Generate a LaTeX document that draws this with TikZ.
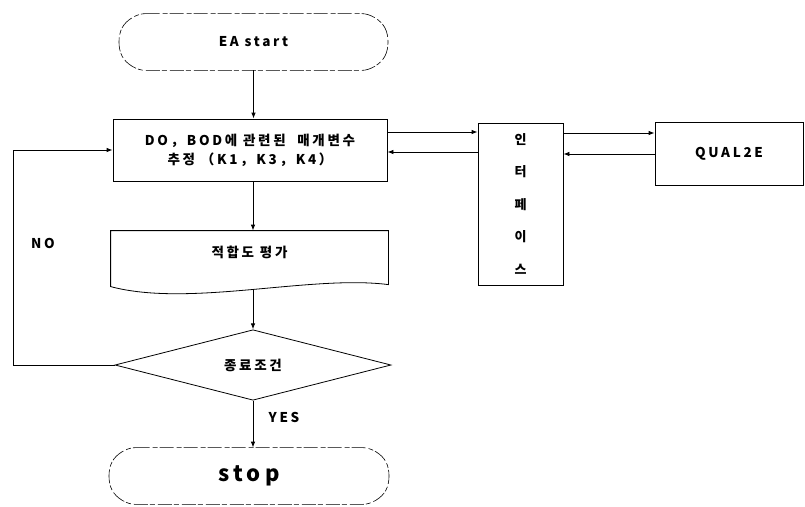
\documentclass[tikz,border=0pt]{standalone}
\usepackage{fontspec}
\setmainfont{Noto Sans CJK KR}[LetterSpace=20]
\usetikzlibrary{arrows.meta,shapes.geometric}

\begin{document}
\begin{tikzpicture}[x=1pt,y=-1pt,line width=0.8pt,font=\bfseries\fontsize{13.5}{16}\selectfont,every node/.style={align=center},
  termline/.style={dash pattern=on 14pt off 3pt on 5pt off 2pt,line width=0.6pt,rounded corners=16pt},
  boxx/.style={draw,rectangle,inner sep=0pt},
  arr/.style={-{Latex[length=6pt,width=4.5pt]}}]
\useasboundingbox (0,0) rectangle (805,506);
\node[minimum width=277pt,minimum height=56pt,inner sep=0pt] (start) at (253.5,42) {EA start};
\draw[termline] ([xshift=15pt]start.north west) -- ([xshift=-15pt]start.north east) -- (start.east) -- ([xshift=-15pt]start.south east) -- ([xshift=15pt]start.south west) -- (start.west) -- cycle;
\node[boxx,minimum width=274pt,minimum height=62pt,font=\bfseries\fontsize{13.5}{19}\selectfont] (est) at (250,150) {DO，BOD에 관련된\ \ 매개변수\\추정 （K1，K3，K4）};
\node[boxx,minimum width=85pt,minimum height=162pt,font=\bfseries\fontsize{13}{32.5}\selectfont] (iface) at (520.5,204) {인\\터\\페\\이\\스};
\node[boxx,minimum width=148pt,minimum height=63pt] (qual) at (729,154) {QUAL2E};
\node[minimum width=277pt,minimum height=42pt,inner sep=0pt] (fit) at (249.5,252) {적합도 평가};
\draw (fit.north west) -- (fit.north east) -- ++(0,54) .. controls +(-78,-10) and +(79,21) .. ([yshift=-56pt]fit.north west) -- cycle;
\coordinate (fitb) at (253,290);
\node[draw,diamond,minimum width=276pt,minimum height=54pt,inner sep=0pt] (cond) at (253,365) {종료조건};
\node[minimum width=288pt,minimum height=56pt,inner sep=0pt,font=\bfseries\fontsize{22}{26}\selectfont] (stop) at (249,476) {stop};
\draw[termline] ([xshift=15pt]stop.north west) -- ([xshift=-15pt]stop.north east) -- (stop.east) -- ([xshift=-15pt]stop.south east) -- ([xshift=15pt]stop.south west) -- (stop.west) -- cycle;
\node (no) at (43,243) {NO};
\node (yes) at (284,417) {YES};
% connectors
\draw[arr] (start.south) -- (start.south |- est.north);
\draw[arr] ([yshift=18pt]est.east) -- ([yshift=72pt]iface.west);
\draw[arr] ([yshift=52pt]iface.west) -- ([yshift=-2pt]est.east);
\draw[arr] ([yshift=71pt]iface.east) -- ([yshift=21pt]qual.west);
\draw[arr] (qual.west) -- ([yshift=50pt]iface.east);
\draw[arr] (cond.north |- est.south) -- (cond.north |- fit.north);
\draw[arr] (fitb) -- (cond.north);
\draw[arr] (cond.south) -- (cond.south |- stop.north);
\coordinate (loop) at (13,150);
\draw[arr] (cond.west) -| (loop) -- (est.west);
\end{tikzpicture}
\end{document}
